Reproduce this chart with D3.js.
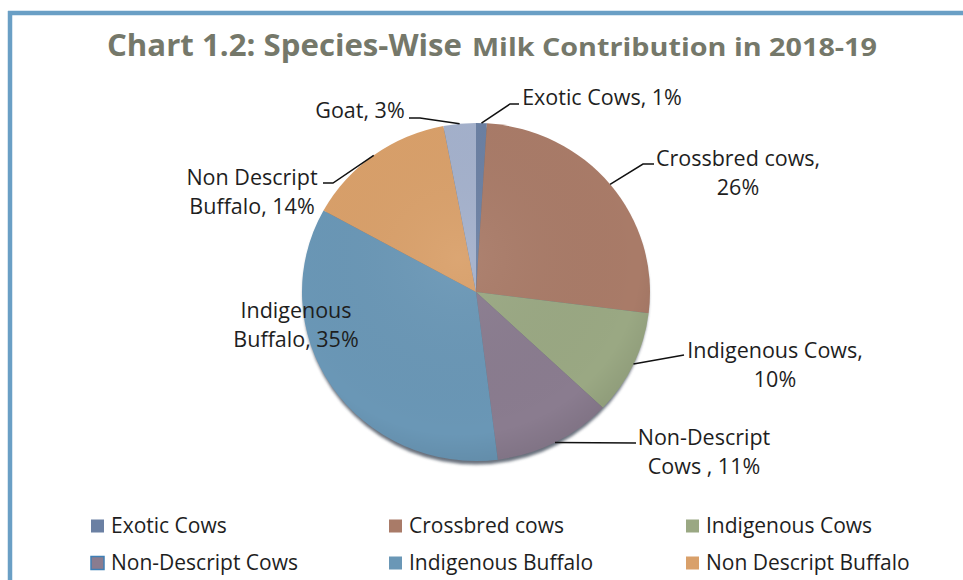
<!DOCTYPE html>
<html>
<head>
<meta charset="utf-8">
<script src="https://cdn.jsdelivr.net/npm/d3@7"></script>
<style>
  html, body { margin: 0; padding: 0; background: #ffffff; }
  svg { display: block; }
</style>
</head>
<body>
<svg id="chart" width="963" height="580"></svg>
<script>
// ---- Data ----
const categories = ["Exotic Cows", "Crossbred cows", "Indigenous Cows", "Non-Descript Cows", "Indigenous Buffalo", "Non Descript Buffalo", "Goat"];
const values = [1, 26, 10, 11, 35, 14, 3];
const colors = ["#6b80a3", "#a97b68", "#9aa883", "#8a7c8f", "#6a97b6", "#d9a06a", "#a4b1cc"];
// label line breaks (display names as shown on the slices)
const labelLines = [
  v => ["Exotic Cows, " + v + "%"],
  v => ["Crossbred cows,", v + "%"],
  v => ["Indigenous Cows,", v + "%"],
  v => ["Non-Descript", "Cows , " + v + "%"],
  v => ["Indigenous", "Buffalo, " + v + "%"],
  v => ["Non Descript", "Buffalo, " + v + "%"],
  v => ["Goat, " + v + "%"]
];
const legendNames = categories.slice(0, 6);
const titleMain = "Chart 1.2: Species-Wise";
const titleRest = "Milk Contribution in 2018-19";

// ---- Layout ----
const W = 963, H = 580;
const cx = 476, cy = 292, rx = 174, ry = 169, R = 170;
const svg = d3.select("#chart");

// border (top + left)
svg.append("rect").attr("x", 0).attr("y", 0).attr("width", W).attr("height", H).attr("fill", "#ffffff");
svg.append("line").attr("x1", 8).attr("x2", W).attr("y1", 13).attr("y2", 13)
  .attr("stroke", "#6a9fc5").attr("stroke-width", 4.5);
svg.append("line").attr("x1", 10).attr("x2", 10).attr("y1", 11).attr("y2", H)
  .attr("stroke", "#6a9fc5").attr("stroke-width", 4.5);

// title
const titleColor = "#75786a";
svg.append("text").attr("x", 107).attr("y", 56)
  .attr("font-family", "'Open Sans', Lato, sans-serif").attr("font-weight", 700)
  .attr("font-size", 30).attr("fill", titleColor)
  .attr("textLength", 355).attr("lengthAdjust", "spacingAndGlyphs")
  .text(titleMain);
svg.append("text").attr("x", 472).attr("y", 56)
  .attr("font-family", "'Open Sans', Lato, sans-serif").attr("font-weight", 700)
  .attr("font-size", 25).attr("fill", titleColor)
  .attr("textLength", 405).attr("lengthAdjust", "spacingAndGlyphs")
  .text(titleRest);

// defs: shadow blur
const defs = svg.append("defs");
defs.append("filter").attr("id", "blur").attr("x", "-10%").attr("y", "-10%").attr("width", "120%").attr("height", "120%")
  .append("feGaussianBlur").attr("stdDeviation", 1.6);
const grad = defs.append("radialGradient").attr("id", "shade").attr("cx", "45%").attr("cy", "40%").attr("r", "65%");
grad.append("stop").attr("offset", "0%").attr("stop-color", "#ffffff").attr("stop-opacity", 0.06);
grad.append("stop").attr("offset", "80%").attr("stop-color", "#000000").attr("stop-opacity", 0.0);
grad.append("stop").attr("offset", "100%").attr("stop-color", "#000000").attr("stop-opacity", 0.10);

// shadow
svg.append("ellipse").attr("cx", cx).attr("cy", cy + 3.5).attr("rx", rx - 1).attr("ry", ry)
  .attr("fill", "#4f5866").attr("opacity", 0.85).attr("filter", "url(#blur)");

const pie = d3.pie().sort(null).value(d => d)(values);
const arc = d3.arc().innerRadius(0).outerRadius(R);
const sx = rx / R, sy = ry / R;

const pg = svg.append("g").attr("transform", `translate(${cx},${cy}) scale(${sx},${sy})`);
pg.selectAll("path.slice").data(pie).join("path")
  .attr("class", "slice")
  .attr("d", arc)
  .attr("fill", (d, i) => colors[i]);
pg.append("circle").attr("r", R).attr("fill", "url(#shade)");

// leader lines + labels (label positions are layout)
const labelLayout = [
  { x: 602, y: 97,  elbow: [510, 104], end: [519, 104] },
  { x: 738, y: 158, elbow: [643, 164], end: [654, 164] },
  { x: 775, y: 350, elbow: null,       end: [684, 355] },
  { x: 704, y: 437, elbow: null,       end: [636, 443] },
  { x: 296, y: 310, elbow: null,       end: null },
  { x: 252, y: 177, elbow: [333, 183], end: [323, 183] },
  { x: 360, y: 110, elbow: [420, 118], end: [409, 118] }
];
const lineH = 29;
const fontFam = "'Open Sans', Lato, sans-serif";

pie.forEach((d, i) => {
  const L = labelLayout[i];
  const mid = (d.startAngle + d.endAngle) / 2;
  const px = cx + rx * Math.sin(mid);
  const py = cy - ry * Math.cos(mid);
  if (L.end) {
    const pts = [[px, py]];
    if (L.elbow) pts.push(L.elbow);
    pts.push(L.end);
    svg.append("path").attr("d", d3.line()(pts))
      .attr("fill", "none").attr("stroke", "#111").attr("stroke-width", 1.5);
  }
  const lines = labelLines[i](values[i]);
  const t = svg.append("text").attr("text-anchor", "middle")
    .attr("font-family", fontFam).attr("font-size", 21.5).attr("fill", "#1e1e1e");
  lines.forEach((ln, k) => {
    t.append("tspan").attr("x", L.x).attr("y", L.y + k * lineH).attr("dy", "0.35em").text(ln);
  });
});

// legend
const colX = [91, 389, 686];
const rowY = [526, 563];
legendNames.forEach((name, i) => {
  const c = i % 3, r = Math.floor(i / 3);
  const g = svg.append("g").attr("transform", `translate(${colX[c]},${rowY[r]})`);
  g.append("rect").attr("x", 0).attr("y", -6.5).attr("width", 13).attr("height", 13)
    .attr("fill", colors[i])
    .attr("stroke", i === 3 ? "#3f7fb5" : "none").attr("stroke-width", 1.5);
  g.append("text").attr("x", 20).attr("y", 0).attr("dy", "0.35em")
    .attr("font-family", fontFam).attr("font-size", 21).attr("fill", "#1e1e1e")
    .text(name);
});
</script>
</body>
</html>
